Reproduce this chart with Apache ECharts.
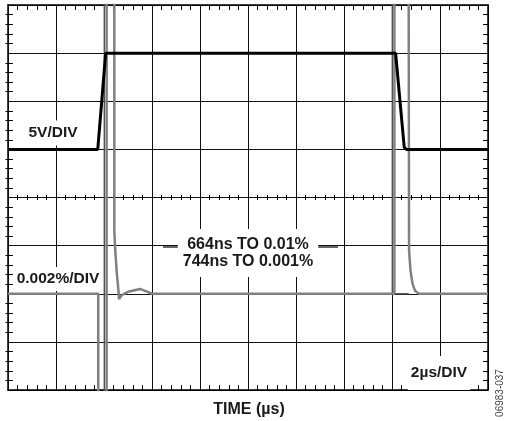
<!DOCTYPE html>
<html>
<head>
<meta charset="utf-8">
<script src="https://cdn.jsdelivr.net/npm/echarts@6/dist/echarts.min.js"></script>
<style>html,body{margin:0;padding:0;background:#fff}#c{width:505px;height:421px}</style>
</head>
<body>
<div id="c"></div>
<script>
// time in µs (2 µs/div, 10 divisions); vertical in divisions (8 divisions, centre = 0)
const xRange = [0, 20];
const yRange = [-4, 4];
const blackTrace = [[0,1],[3.74,1],[4.07,3],[16.15,3],[16.51,1.04],[16.6,1.0],[20,1]];
const grayTrace = [[0,-2],[3.76,-2],[3.76,-6],[4.11,-6],[4.11,6],[4.43,6],[4.43,-0.68],[4.46,-1.03],[4.53,-1.55],[4.6,-1.92],[4.625,-2.11],[4.74,-2.03],[5.0,-1.96],[5.5,-1.9],[5.71,-1.94],[6.0,-2.0],[16.1,-2],[16.1,6],[16.69,6],[16.71,-1.09],[16.77,-1.51],[16.85,-1.78],[16.96,-1.94],[17.125,-2.0],[20,-2]];
const darkLeft = [[4.01,-6],[4.01,6]];
const darkRight = [[16.01,6],[16.01,-2],[16.7,-2]];
const labels = {
  vdiv: '5V/DIV',
  pdiv: '0.002%/DIV',
  settle: '664ns TO 0.01%\n744ns TO 0.001%',
  tdiv: '2\u00b5s/DIV',
  xname: 'TIME (\u00b5s)',
  code: '06983-037'
};

const chart = echarts.init(document.getElementById('c'), null, {renderer: 'canvas'});
const FONT = 'bold 15.5px "Liberation Sans", Arial, sans-serif';
const FONT_L = 'bold 16px "Liberation Sans", Arial, sans-serif';
const INK = '#1a1a1a';

function edgeAxis(pos, split, isX) {
  return {
    type: 'value', min: isX ? xRange[0] : yRange[0], max: isX ? xRange[1] : yRange[1], interval: isX ? 2 : 1,
    position: pos,
    axisLine: {show: true, onZero: false, lineStyle: {color: '#000', width: 1.5}},
    axisTick: {show: false, inside: true, length: 5},
    minorTick: {show: true, splitNumber: 5, length: 5, lineStyle: {color: '#000', width: 1}},
    axisLabel: {show: false},
    splitLine: {show: split, lineStyle: {color: '#111', width: 1}},
    minorSplitLine: {show: false}
  };
}
function centerAxis(pos, inside, isX) {
  return {
    type: 'value', min: isX ? xRange[0] : yRange[0], max: isX ? xRange[1] : yRange[1], interval: isX ? 2 : 1,
    position: pos,
    axisLine: {show: true, onZero: true, onZeroAxisIndex: 0, lineStyle: {color: '#111', width: 1}},
    axisTick: {show: false, inside: inside, length: 3},
    minorTick: {show: true, splitNumber: 5, length: 2.5, lineStyle: {color: '#000', width: 1}},
    axisLabel: {show: false},
    splitLine: {show: false}
  };
}

const option = {
  animation: false,
  backgroundColor: '#fff',
  grid: {left: 8, top: 5, width: 480, height: 385, containLabel: false},
  xAxis: [edgeAxis('bottom', true, true), edgeAxis('top', false, true), centerAxis('bottom', true, true), centerAxis('bottom', false, true)],
  yAxis: [edgeAxis('left', true, false), edgeAxis('right', false, false), centerAxis('left', true, false), centerAxis('left', false, false)],
  series: [
    {type: 'line', data: darkLeft, symbol: 'none', lineStyle: {color: '#5a5a5a', width: 1.3}, silent: true},
    {type: 'line', data: darkRight, symbol: 'none', lineStyle: {color: '#5a5a5a', width: 1.3}, silent: true},
    {type: 'line', data: grayTrace, symbol: 'none', lineStyle: {color: '#808080', width: 2.5}, silent: true},
    {type: 'line', data: blackTrace, symbol: 'none', lineStyle: {color: '#000', width: 3}, silent: true}
  ],
  graphic: [
    {type: 'text', x: 53, y: 133, z: 100, style: {text: labels.vdiv, font: FONT, fill: INK, align: 'center', verticalAlign: 'middle', backgroundColor: '#fff', padding: [6, 4, 3, 4]}},
    {type: 'text', x: 58, y: 279, z: 100, style: {text: labels.pdiv, font: FONT, fill: INK, align: 'center', verticalAlign: 'middle', backgroundColor: '#fff', padding: [6, 3, 2, 3]}},
    {type: 'line', z: 100, shape: {x1: 163, y1: 247, x2: 179, y2: 247}, style: {stroke: '#111', lineWidth: 1.3}},
    {type: 'line', z: 100, shape: {x1: 318, y1: 247, x2: 338, y2: 247}, style: {stroke: '#111', lineWidth: 1.3}},
    {type: 'text', x: 248, y: 253, z: 100, style: {text: labels.settle, font: FONT_L, lineHeight: 17, fill: INK, align: 'center', verticalAlign: 'middle', backgroundColor: '#fff', padding: [7, 5, 7, 5]}},
    {type: 'text', x: 439, y: 373, z: 100, style: {text: labels.tdiv, font: FONT, fill: INK, align: 'center', verticalAlign: 'middle', backgroundColor: '#fff', padding: [8, 3, 10, 3]}},
    {type: 'text', x: 249, y: 410, z: 100, style: {text: labels.xname, font: FONT_L, fill: INK, align: 'center', verticalAlign: 'middle'}},
    {type: 'text', x: 500, y: 393, z: 100, rotation: Math.PI / 2, style: {text: labels.code, font: '10px "Liberation Sans", Arial, sans-serif', fill: '#444', align: 'center', verticalAlign: 'middle'}}
  ]
};
chart.setOption(option);
</script>
</body>
</html>
